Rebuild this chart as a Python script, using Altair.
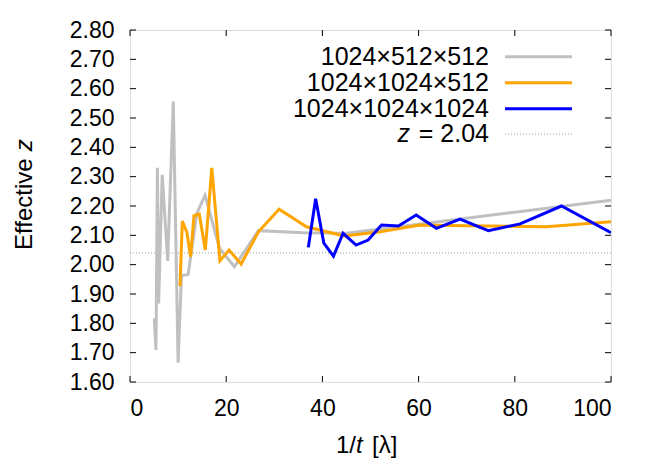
import altair as alt
import pandas as pd

# ---------------- data ----------------
series_names = ["1024×512×512", "1024×1024×512", "1024×1024×1024"]
series_colors = ["#c0c0c0", "#ffa500", "#0000ff"]

x_gray = [5.05, 5.4, 5.7, 5.96, 6.7, 7.83, 9.0, 10.0, 10.7, 12.1, 13.9, 15.6,
          18.6, 21.7, 26.7, 36.0, 45.0, 60.0, 80.0, 100.0]
y_gray = [1.817, 1.709, 2.33, 1.868, 2.306, 2.013, 2.556, 1.666, 1.962, 1.967,
          2.175, 2.237, 2.056, 1.993, 2.116, 2.109, 2.107, 2.138, 2.179, 2.22]

x_orange = [10.4, 10.88, 11.8, 12.6, 13.3, 14.4, 15.66, 17.0, 18.7, 20.6, 23.1,
            26.7, 31.0, 36.7, 44.5, 52.0, 60.3, 70.0, 86.6, 100.0]
y_orange = [1.927, 2.149, 2.112, 2.027, 2.167, 2.172, 2.05, 2.33, 2.013, 2.05,
            2.002, 2.112, 2.189, 2.129, 2.098, 2.112, 2.135, 2.133, 2.129, 2.146]

x_blue = [37.07, 38.6, 40.3, 42.3, 44.3, 47.0, 49.5, 52.3, 55.8, 59.5, 63.7,
          68.6, 74.5, 81.1, 89.7, 100.0]
y_blue = [2.059, 2.225, 2.073, 2.029, 2.107, 2.067, 2.084, 2.135, 2.132, 2.169,
          2.124, 2.155, 2.116, 2.139, 2.20, 2.109]

z_ref = 2.04
x_ticks = [0, 20, 40, 60, 80, 100]
y_ticks = [1.6, 1.7, 1.8, 1.9, 2.0, 2.1, 2.2, 2.3, 2.4, 2.5, 2.6, 2.7, 2.8]

# ---------------- layout ----------------
W, H = 481, 352
FONT = "Liberation Sans"
TICK_LEN = 6

xscale = alt.Scale(domain=[0, 100], nice=False, zero=False)
yscale = alt.Scale(domain=[1.6, 2.8], nice=False, zero=False)

xaxis = alt.Axis(values=x_ticks, format="d", grid=False, domain=False,
                 ticks=False, tickSize=0, labelPadding=15,
                 labelFontSize=23, labelFont=FONT, labelColor="black", title=None)
yaxis = alt.Axis(values=y_ticks, format=".2f", grid=False, domain=False,
                 ticks=False, tickSize=0, labelPadding=16,
                 labelFontSize=23, labelFont=FONT, labelColor="black", title=None)


def X(field):
    return alt.X(field, scale=xscale, axis=xaxis)


def Y(field):
    return alt.Y(field, scale=yscale, axis=yaxis)


def series_df(xs, ys):
    return pd.DataFrame({"x": xs, "y": ys, "order": list(range(len(xs)))})


layers = []

# reference dotted line
layers.append(alt.Chart(pd.DataFrame({"z": [z_ref]})).mark_rule(
    color="#a0a0a0", strokeWidth=1, strokeDash=[1, 2]
).encode(y=Y("z:Q")))

for xs, ys, col in [(x_gray, y_gray, series_colors[0]),
                    (x_orange, y_orange, series_colors[1]),
                    (x_blue, y_blue, series_colors[2])]:
    layers.append(
        alt.Chart(series_df(xs, ys)).mark_line(color=col, strokeWidth=3, clip=True).encode(
            x=X("x:Q"), y=Y("y:Q"), order="order:Q",
        )
    )

# inward (mirrored) ticks
xt = pd.DataFrame({"t": x_ticks})
yt = pd.DataFrame({"t": y_ticks})
for yv, y2v in [(H, H - TICK_LEN), (0, TICK_LEN)]:
    layers.append(alt.Chart(xt).mark_rule(color="black", strokeWidth=1).encode(
        x=X("t:Q"), y=alt.value(yv), y2=alt.value(y2v)))
for xv, x2v in [(0, TICK_LEN), (W, W - TICK_LEN)]:
    layers.append(alt.Chart(yt).mark_rule(color="black", strokeWidth=1).encode(
        y=Y("t:Q"), x=alt.value(xv), x2=alt.value(x2v)))

# legend
LEG_TEXT_X = 359
LEG_LINE_X1, LEG_LINE_X2 = 375, 442
leg_rows = [26.7, 52.7, 78.7, 104.0]


def txt(s, x, y, size=25, align="right", baseline="middle", style="normal", angle=0):
    return alt.Chart(pd.DataFrame({"s": [s]})).mark_text(
        align=align, baseline=baseline, fontSize=size, font=FONT, color="black",
        fontStyle=style, angle=angle
    ).encode(text="s:N", x=alt.value(x), y=alt.value(y))


for name, col, ry in zip(series_names, series_colors, leg_rows[:3]):
    layers.append(txt(name, LEG_TEXT_X, ry))
    layers.append(alt.Chart(pd.DataFrame({"s": [name]})).mark_rule(
        color=col, strokeWidth=3).encode(
        x=alt.value(LEG_LINE_X1), x2=alt.value(LEG_LINE_X2), y=alt.value(ry)))
layers.append(txt("= 2.04", LEG_TEXT_X, leg_rows[3]))
layers.append(txt("z", 280, leg_rows[3], style="italic"))
layers.append(alt.Chart(pd.DataFrame({"s": ["z"]})).mark_rule(
    color="#a0a0a0", strokeWidth=1, strokeDash=[1, 2]).encode(
    x=alt.value(LEG_LINE_X1), x2=alt.value(LEG_LINE_X2), y=alt.value(leg_rows[3])))

# axis titles (mixed upright / italic)
layers.append(txt("Effective ", -98.3, 220, size=24, align="left",
                  baseline="alphabetic", angle=270))
layers.append(txt("z", -98.3, 121.3, size=24, align="left",
                  baseline="alphabetic", angle=270, style="italic"))
layers.append(txt("1/", 206, 423.3, size=24, align="left", baseline="alphabetic"))
layers.append(txt("t", 226, 423.3, size=24, align="left", baseline="alphabetic",
                  style="italic"))
layers.append(txt("[λ]", 242, 423.3, size=24, align="left", baseline="alphabetic"))

chart = alt.layer(*layers).properties(
    width=W, height=H,
    padding={"left": 122, "top": 22, "right": 35, "bottom": 76},
    autosize=alt.AutoSizeParams(type="none"),
).configure_view(stroke="black", strokeWidth=1).configure(background="white")

chart.save("out.html", embed_options={"renderer": "svg", "actions": False})
